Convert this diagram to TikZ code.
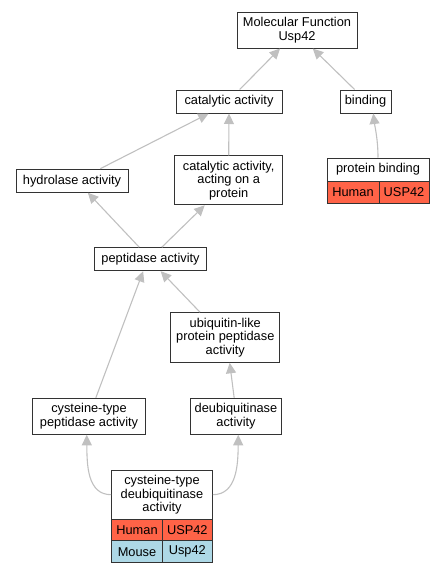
\documentclass[tikz,border=0pt]{standalone}
\usepackage{fontspec}
\setmainfont{Liberation Sans}
\usetikzlibrary{arrows.meta,calc}
\definecolor{edgegray}{HTML}{C0C0C0}
\definecolor{human}{HTML}{FF6347}
\definecolor{mouse}{HTML}{ADD8E6}
\tikzset{
  gobox/.style={draw=black!80, line width=1pt, fill=white, inner sep=0pt, align=center,
    font=\fontsize{12.8}{13.4}\selectfont, anchor=center},
  cell/.style={gobox},
  isa/.style={draw=edgegray, line width=1.1pt, -{Triangle[length=10.5pt,width=10pt]}},
}
\begin{document}
\begin{tikzpicture}[x=1pt,y=-1pt]
\useasboundingbox (0,0) rectangle (443,573);
% nodes
\node[gobox, minimum width=120pt, minimum height=36pt] (mf) at (297,30) {Molecular Function\\Usp42};
\node[gobox, minimum width=106pt, minimum height=23pt] (cat) at (229,101.5) {catalytic activity};
\node[gobox, minimum width=51pt, minimum height=23pt] (bind) at (365.5,101.5) {binding};
\node[gobox, minimum width=102pt, minimum height=23pt] (pb) at (378,169.5) {protein binding};
\node[cell, fill=human, minimum width=52pt, minimum height=22pt] (pbh) at (353,192) {Human};
\node[cell, fill=human, minimum width=50pt, minimum height=22pt] (pbg) at (404,192) {USP42};
\node[gobox, minimum width=112pt, minimum height=23pt] (hydro) at (72,180.7) {hydrolase activity};
\node[gobox, minimum width=108pt, minimum height=49pt] (act) at (228.7,180.3) {catalytic activity,\\acting on a\\protein};
\node[gobox, minimum width=112pt, minimum height=23pt] (pept) at (150.5,259.2) {peptidase activity};
\node[gobox, minimum width=109pt, minimum height=49.6pt] (ubiq) at (225.3,337.5) {ubiquitin-like\\protein peptidase\\activity};
\node[gobox, minimum width=113pt, minimum height=36pt] (cyspep) at (89,416.3) {cysteine-type\\peptidase activity};
\node[gobox, minimum width=91pt, minimum height=36pt] (deub) at (236,416.3) {deubiquitinase\\activity};
\node[gobox, minimum width=100.6pt, minimum height=48.7pt] (cd) at (162,494.7) {cysteine-type\\deubiquitinase\\activity};
\node[cell, fill=human, minimum width=50.6pt, minimum height=21.7pt] (cdh) at (137,529.9) {Human};
\node[cell, fill=human, minimum width=50pt, minimum height=21.7pt] (cdg) at (187.3,529.9) {USP42};
\node[cell, fill=mouse, minimum width=50.6pt, minimum height=22pt] (cdm) at (137,551.7) {Mouse};
\node[cell, fill=mouse, minimum width=50pt, minimum height=22pt] (cdmg) at (187.3,551.7) {Usp42};
% edges
\draw[isa] ($(cat.north west)!0.60!(cat.north east)$) -- ($(mf.south west)!0.36!(mf.south east)$);
\draw[isa] ($(bind.north west)!0.29!(bind.north east)$) -- ($(mf.south west)!0.63!(mf.south east)$);
\draw[isa] ($(hydro.north west)!0.75!(hydro.north east)$) -- ($(cat.south west)!0.31!(cat.south east)$);
\draw[isa] (act.north) -- (cat.south);
\draw[isa] (pb.north) .. controls ($(pb.north)+(0,-18)$) and ($(pb.north)+(-3,-30)$) .. ($(bind.south west)!0.65!(bind.south east)$);
\draw[isa] ($(pept.north west)!0.40!(pept.north east)$) -- ($(hydro.south west)!0.64!(hydro.south east)$);
\draw[isa] ($(pept.north west)!0.60!(pept.north east)$) -- ($(act.south west)!0.28!(act.south east)$);
\draw[isa] ($(ubiq.north west)!0.27!(ubiq.north east)$) -- ($(pept.south west)!0.59!(pept.south east)$);
\draw[isa] ($(cyspep.north west)!0.56!(cyspep.north east)$) -- ($(pept.south west)!0.435!(pept.south east)$);
\draw[isa] ($(deub.north west)!0.48!(deub.north east)$) -- ($(ubiq.south west)!0.54!(ubiq.south east)$);
\draw[isa] (cd.west) .. controls ($(cd.west)+(-24,0)$) and ($(cyspep.south)+(-2,30)$) .. ($(cyspep.south west)!0.48!(cyspep.south east)$);
\draw[isa] (cd.east) .. controls ($(cd.east)+(24,0)$) and ($(deub.south)+(2,30)$) .. ($(deub.south west)!0.525!(deub.south east)$);
\end{tikzpicture}
\end{document}
